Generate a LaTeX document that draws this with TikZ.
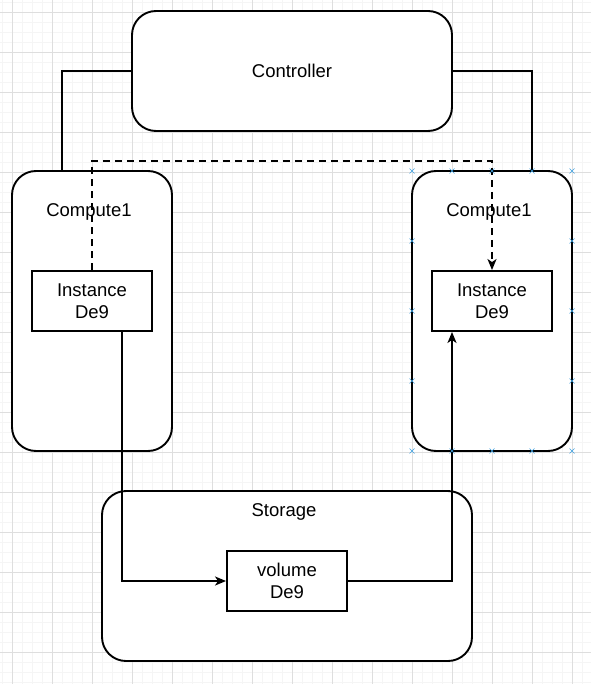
\documentclass[tikz,border=0pt]{standalone}
\usepackage{fontspec}
\setmainfont{Liberation Sans}
\usetikzlibrary{arrows.meta,calc}
\definecolor{gridminor}{HTML}{F5F5F5}
\definecolor{gridmajor}{HTML}{DEDEDE}
\definecolor{handle}{HTML}{3FA0E0}
\tikzset{
  box/.style={draw=black, line width=1.9pt, fill=white, inner sep=0pt, align=center,
    font=\fontsize{18.5}{22}\selectfont},
  roundbox/.style={box, rounded corners=24pt},
  conn/.style={line width=1.9pt, draw=black},
  arr/.style={conn, -{Stealth[length=11pt,width=9pt,inset=3pt]}},
  lbl/.style={font=\fontsize{18.5}{22}\selectfont, inner sep=0pt},
  hx/.style={draw=handle, line width=0.6pt},
}
\begin{document}
\begin{tikzpicture}[x=1pt,y=-1pt]
\useasboundingbox (0,0) rectangle (591,684);
\fill[white] (0,0) rectangle (591,684);
% grid
\foreach \g in {2,12,...,682} {
  \draw[gridminor, line width=0.8pt] (\g,0) -- (\g,684);
  \draw[gridminor, line width=0.8pt] (0,\g) -- (591,\g);
}
\foreach \g in {12,52,...,682} {
  \draw[gridmajor, line width=0.8pt] (\g,0) -- (\g,684);
  \draw[gridmajor, line width=0.8pt] (0,\g) -- (591,\g);
}
\coordinate (dtop) at (292,161);
% nodes
\node[roundbox, minimum width=320pt, minimum height=120pt] (ctrl) at (292,71) {Controller};
\node[roundbox, minimum width=160pt, minimum height=280pt] (c1) at (92,311) {};
\node[roundbox, minimum width=160pt, minimum height=280pt] (c2) at (492,311) {};
\node[roundbox, minimum width=370pt, minimum height=170pt] (st) at (287,576) {};
\node[lbl] (c1l) at (89,212) {Compute1};
\node[lbl] (c2l) at (489,212) {Compute1};
\node[lbl] (stl) at (284,512) {Storage};
\node[box, minimum width=120pt, minimum height=60pt] (i1) at (92,301) {Instance\\ De9};
\node[box, minimum width=120pt, minimum height=60pt] (i2) at (492,301) {Instance\\ De9};
\node[box, minimum width=120pt, minimum height=60pt] (vol) at (287,581) {volume\\ De9};
% connectors
\draw[conn] (ctrl.west) -| ([xshift=-30pt]c1.north);
\draw[conn] (ctrl.east) -| ([xshift=40pt]c2.north);
\draw[arr, dash pattern=on 7pt off 5pt] (i1.north) |- (dtop) -| (i2.north);
\draw[arr] ([xshift=30pt]i1.south) |- (vol.west);
\draw[arr] (vol.east) -| ([xshift=-40pt]i2.south);
% selection handles
\foreach \hx/\hy in {412/171,452/171,492/171,532/171,572/171,412/451,452/451,492/451,532/451,572/451,412/241,412/311,412/381,572/241,572/311,572/381} {
  \draw[hx] (\hx-2.5,\hy-2.5) -- (\hx+2.5,\hy+2.5) (\hx-2.5,\hy+2.5) -- (\hx+2.5,\hy-2.5);
}
\end{tikzpicture}
\end{document}
